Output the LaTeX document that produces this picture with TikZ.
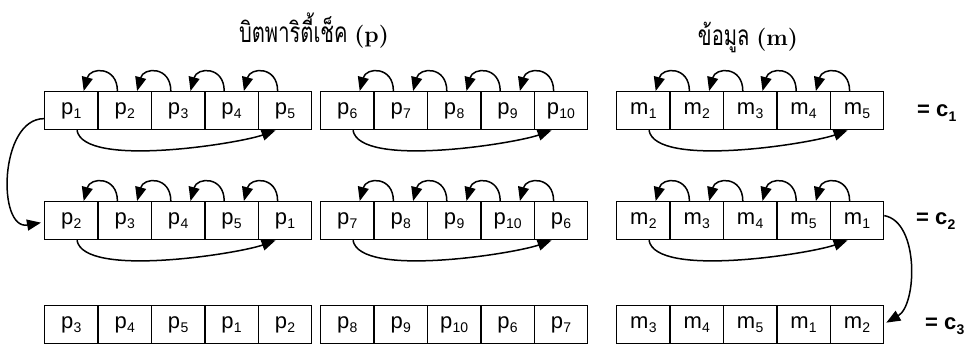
\documentclass[tikz,border=0pt]{standalone}
\usepackage{fontspec}
\newfontfamily\thaifont[Script=Thai,FakeStretch=0.72]{Loma}
\newfontfamily\arialf{Liberation Sans}
\usetikzlibrary{arrows.meta}
\newcommand\sbx[2]{#1\kern0.3pt\raisebox{-4.5pt}{\fontsize{14}{14}\selectfont #2}}
\tikzset{
  cell/.style={draw, line width=1.3pt, minimum width=53.4pt, minimum height=38pt,
    anchor=north west, inner sep=0pt, font=\arialf\fontsize{22}{22}\selectfont},
  arr/.style={line width=1.5pt, -{Triangle[length=14pt,width=11pt]}},
  title/.style={anchor=base, inner sep=0pt},
  eqlab/.style={anchor=base west, inner sep=0pt, font=\arialf\bfseries\fontsize{22}{22}\selectfont}
}
\begin{document}
\begin{tikzpicture}[x=1pt,y=1pt]
\useasboundingbox (0,0) rectangle (977,-352);
\fill[white] (0,0) rectangle (977,-352);
% titles
\node[title] (t1) at (314,-43) {\thaifont\fontsize{28}{28}\selectfont บิตพาริตี้เช็ค {\rmfamily\bfseries\fontsize{23}{23}\selectfont (p)}};
\node[title] (t2) at (748,-46) {\thaifont\fontsize{28}{28}\selectfont ข้อมูล {\rmfamily\bfseries\fontsize{23}{23}\selectfont (m)}};
% cells
\foreach \r/\yy in {1/91,2/201,3/305}{
  \foreach \g/\xx/\ch/\off in {1/44/p/0,2/320/p/5,3/616/m/0}{
    \foreach \i in {1,...,5}{
      \pgfmathtruncatemacro\lab{mod(\i-1+\r-1,5)+1+\off}
      \node[cell] (c-\r-\g-\i) at ({\xx+(\i-1)*53.4},-\yy) {\sbx{\ch}{\lab}};
    }
  }
}
% arcs
\foreach \r in {1,2}{
  \foreach \g in {1,2,3}{
    \foreach \i in {1,...,4}{
      \pgfmathtruncatemacro\j{\i+1}
      \draw[arr] ([xshift=20pt]c-\r-\g-\j.north west) to[out=90,in=75,looseness=1.9] ([xshift=-15pt]c-\r-\g-\i.north east);
    }
    \draw[arr] ([xshift=33pt]c-\r-\g-1.south west) to[out=-80,in=-160,looseness=0.5] ([xshift=18pt]c-\r-\g-5.south west);
  }
}
% long arrows
\draw[arr] ([yshift=-8pt]c-1-1-1.west) to[out=180,in=190,looseness=1.1] ([xshift=-3pt,yshift=-2pt]c-2-1-1.west);
\draw[arr] ([yshift=5pt]c-2-3-5.east) to[out=-10,in=30,looseness=0.85] ([xshift=2pt,yshift=2pt]c-3-3-5.east);
% equation labels
\node[eqlab] (e1) at (917,-117) {= \sbx{c}{1}};
\node[eqlab] (e2) at (916,-225) {= \sbx{c}{2}};
\node[eqlab] (e3) at (925,-330) {= \sbx{c}{3}};
\end{tikzpicture}
\end{document}
